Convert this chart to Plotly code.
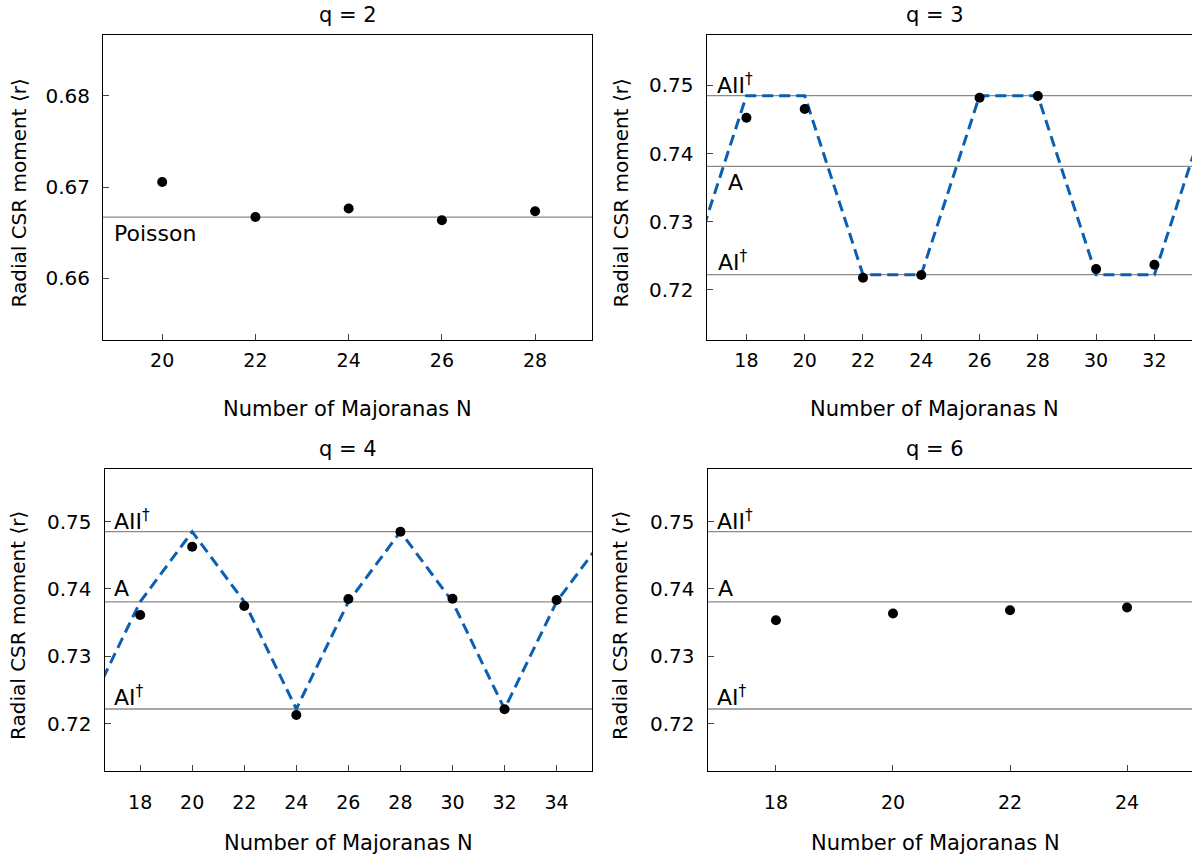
import plotly.graph_objects as go

W, H = 1192, 855

# ---------------- data ----------------
titles = ["q = 2", "q = 3", "q = 4", "q = 6"]

q2_N = [20, 22, 24, 26, 28]
q2_r = [0.67055, 0.66670, 0.66763, 0.66634, 0.66733]

q3_N = [18, 20, 22, 24, 26, 28, 30, 32]
q3_r = [0.74527, 0.74655, 0.72176, 0.72215, 0.74821, 0.74846, 0.72302, 0.72366]

q4_N = [18, 20, 22, 24, 26, 28, 30, 32, 34]
q4_r = [0.73614, 0.74627, 0.73748, 0.72131, 0.73852, 0.74850, 0.73856, 0.72215, 0.73837]

q6_N = [18, 20, 22, 24]
q6_r = [0.73537, 0.73636, 0.73685, 0.73725]

r_poisson = 0.6667
r_A = 0.7381
r_AI = 0.7222
r_AII = 0.7485

# predicted class lines (dashed)
q3_pred_N = [16, 18, 20, 22, 24, 26, 28, 30, 32, 34]
q3_pred_r = [r_AI, r_AII, r_AII, r_AI, r_AI, r_AII, r_AII, r_AI, r_AI, r_AII]
q4_pred_N = [16, 18, 20, 22, 24, 26, 28, 30, 32, 34, 36]
q4_pred_r = [r_AI, r_A, r_AII, r_A, r_AI, r_A, r_AII, r_A, r_AI, r_A, r_AII]

# ---------------- layout geometry (pixels) ----------------
FONT = "DejaVu Sans"
panels = {
    # name: (x0, x1, y0_top, y1_bottom, xrange, yrange)
    1: (103, 592, 35, 340, [18.73, 29.22], [0.65319, 0.6867]),
    2: (706.5, 1192, 35, 340, [16.63, 33.29], [0.7126, 0.75742]),
    3: (104.5, 592, 469, 771, [16.63, 35.36], [0.7130, 0.7578]),
    4: (707.5, 1192, 469, 771, [16.83, 25.11], [0.7130, 0.7578]),
}
xticks = {1: [20, 22, 24, 26, 28], 2: [18, 20, 22, 24, 26, 28, 30, 32],
          3: [18, 20, 22, 24, 26, 28, 30, 32, 34], 4: [18, 20, 22, 24]}
yticks = {1: [0.66, 0.67, 0.68], 2: [0.72, 0.73, 0.74, 0.75],
          3: [0.72, 0.73, 0.74, 0.75], 4: [0.72, 0.73, 0.74, 0.75]}

fig = go.Figure()
BLUE = "#0b5fb0"
GRAY = "#8a8a8a"

def px_x(p):
    return p / W

def px_y(p):
    return 1 - p / H

layout = dict(width=W, height=H, margin=dict(l=0, r=0, t=0, b=0),
              paper_bgcolor="white", plot_bgcolor="white", showlegend=False,
              font=dict(family=FONT, size=20, color="black"))

for i, (x0, x1, yt, yb, xr, yr) in panels.items():
    sfx = "" if i == 1 else str(i)
    right_open = i in (2, 4)
    layout["xaxis" + sfx] = dict(
        domain=[px_x(x0), min(px_x(x1), 1.0)], range=xr, anchor="y" + sfx,
        tickvals=xticks[i], ticks="inside", ticklen=6, tickcolor="#444",
        showline=True, linecolor="black", linewidth=1, mirror=True,
        showgrid=False, zeroline=False, ticklabelstandoff=(3 if i in (1, 2) else 14),
        tickfont=dict(family=FONT, size=19))
    layout["yaxis" + sfx] = dict(
        domain=[px_y(yb), px_y(yt)], range=yr, anchor="x" + sfx,
        tickvals=yticks[i], tickformat=".2f", ticks="inside", ticklen=6, tickcolor="#444",
        showline=True, linecolor="black", linewidth=1, mirror=(not right_open),
        showgrid=False, zeroline=False, ticklabelstandoff=8,
        tickfont=dict(family=FONT, size=20))

fig.update_layout(**layout)

def axn(i):
    return ("x" if i == 1 else f"x{i}"), ("y" if i == 1 else f"y{i}")

def hline(i, val):
    xa, ya = axn(i)
    fig.add_shape(type="line", xref=f"{xa} domain", yref=ya, x0=0, x1=1, y0=val, y1=val,
                  line=dict(color=GRAY, width=1.3), layer="below")

hline(1, r_poisson)
for i in (2, 3, 4):
    for v in (r_AII, r_A, r_AI):
        hline(i, v)

# dashed predicted lines
for i, (xs, ys) in {2: (q3_pred_N, q3_pred_r), 3: (q4_pred_N, q4_pred_r)}.items():
    xa, ya = axn(i)
    fig.add_trace(go.Scatter(x=xs, y=ys, mode="lines", xaxis=xa, yaxis=ya,
                             line=dict(color=BLUE, width=3, dash="11px,6px"),
                             hoverinfo="skip"))

# data points
for i, (xs, ys) in {1: (q2_N, q2_r), 2: (q3_N, q3_r), 3: (q4_N, q4_r), 4: (q6_N, q6_r)}.items():
    xa, ya = axn(i)
    fig.add_trace(go.Scatter(x=xs, y=ys, mode="markers", xaxis=xa, yaxis=ya,
                             marker=dict(color="black", size=10)))

ann = []
def text(x, y, s, size=20, xanchor="left", yanchor="middle", angle=0):
    ann.append(dict(xref="paper", yref="paper", x=px_x(x), y=px_y(y), text=s,
                    showarrow=False, xanchor=xanchor, yanchor=yanchor, textangle=angle,
                    font=dict(family=FONT, size=size, color="black")))

# titles
for i, (x0, x1, yt, yb, xr, yr) in panels.items():
    cx = (x0 + (1195 if i in (2, 4) else x1)) / 2 - (16 if i in (2, 4) else 0)
    text(cx, yt - 20, titles[i - 1], size=21, xanchor="center")
    text(cx, yb + (69 if i in (1, 2) else 72), "Number of Majoranas N", size=21, xanchor="center")
    ylx = 18 if i in (1, 3) else 620
    text(ylx, (yt + yb) / 2 + 6, "Radial CSR moment ⟨r⟩", size=20, xanchor="center", angle=-90)

# line labels
LS = 22
text(112, 234, "Poisson", size=LS)
text(715, 84, "AII<sup>†</sup>", size=LS)
text(726, 182, "A", size=LS)
text(716, 261, "AI<sup>†</sup>", size=LS)
text(112, 520, "AII<sup>†</sup>", size=LS)
text(112, 588, "A", size=LS)
text(112, 696, "AI<sup>†</sup>", size=LS)
text(715, 520, "AII<sup>†</sup>", size=LS)
text(716, 588, "A", size=LS)
text(715, 696, "AI<sup>†</sup>", size=LS)

fig.update_layout(annotations=ann)
fig.write_html("out.html", config={"displayModeBar": False},
               post_script="document.body.style.margin='0';document.body.style.padding='0';")
